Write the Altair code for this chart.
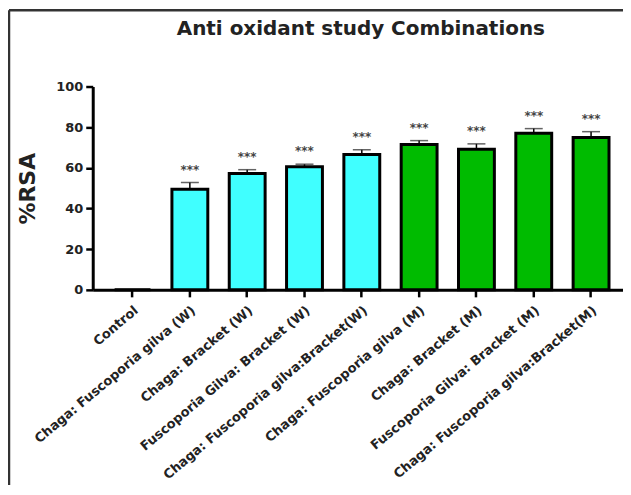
import altair as alt
import pandas as pd

categories = [
    "Control",
    "Chaga: Fuscoporia gilva (W)",
    "Chaga: Bracket (W)",
    "Fuscoporia Gilva: Bracket (W)",
    "Chaga: Fuscoporia gilva:Bracket(W)",
    "Chaga: Fuscoporia gilva (M)",
    "Chaga: Bracket (M)",
    "Fuscoporia Gilva: Bracket (M)",
    "Chaga: Fuscoporia gilva:Bracket(M)",
]
values = [0, 49.5, 57.2, 60.5, 66.6, 71.5, 69.2, 77.0, 74.9]
errors = [0, 3.3, 1.9, 1.3, 2.3, 1.9, 2.6, 2.3, 2.9]
groups = ["Control", "W", "W", "W", "W", "M", "M", "M", "M"]
stars = ["", "***", "***", "***", "***", "***", "***", "***", "***"]

df = pd.DataFrame({
    "cat": categories, "val": values, "err": errors, "grp": groups, "star": stars,
})
df["top"] = df["val"] + df["err"]

FONT = "DejaVu Sans"
W, H = 532, 204

xs = alt.X("cat:N", sort=categories,
           scale=alt.Scale(paddingInner=0.374, paddingOuter=0.313, align=0.61),
           axis=alt.Axis(title=None, labelAngle=320, labelFont=FONT, labelFontSize=13,
                         labelFontWeight="bold", labelColor="#222", labelPadding=7,
                         tickSize=7, tickWidth=2.5, tickColor="black",
                         domainWidth=3, domainColor="black", labelLimit=400))
ys = alt.Y("val:Q", scale=alt.Scale(domain=[0, 100], nice=False),
           axis=alt.Axis(title="%RSA", values=[0, 20, 40, 60, 80, 100],
                         titleFont=FONT, titleFontSize=22, titleFontWeight="bold",
                         titleColor="#222", titlePadding=16,
                         labelFont=FONT, labelFontSize=13, labelFontWeight="bold",
                         labelColor="#222", labelPadding=3,
                         tickSize=7, tickWidth=2.5, tickColor="black",
                         domainWidth=3, domainColor="black", grid=False))

base = alt.Chart(df)

bars = base.mark_bar(stroke="black", strokeWidth=3).encode(
    x=xs, y=ys,
    color=alt.Color("grp:N", scale=alt.Scale(domain=["Control", "W", "M"],
                                             range=["#ffffff", "#40FFFF", "#00BB00"]),
                    legend=None),
)

pos = base.transform_filter("datum.val > 0")
err_rule = pos.mark_rule(color="black", strokeWidth=1.5).encode(
    x=alt.X("cat:N", sort=categories), y="val:Q", y2="top:Q")
err_cap = pos.mark_tick(color="#222", orient="horizontal", size=18, thickness=1.5).encode(
    x=alt.X("cat:N", sort=categories), y="top:Q")
star_text = pos.mark_text(font=FONT, fontSize=12, fontWeight="bold", color="#444",
                          baseline="alphabetic", dy=-9).encode(
    x=alt.X("cat:N", sort=categories), y="top:Q", text="star:N")

title = alt.Chart(pd.DataFrame({"t": ["Anti oxidant study Combinations"]})).mark_text(
    font=FONT, fontSize=20, fontWeight="bold", color="#222", baseline="middle",
    align="center").encode(x=alt.value(W / 2 + 3), y=alt.value(-58), text="t:N")

frame_df = pd.DataFrame({"k": [1]})
frame_left = alt.Chart(frame_df).mark_rule(color="#333", strokeWidth=2.5).encode(
    x=alt.value(-84), y=alt.value(-76.5), y2=alt.value(400))
frame_top = alt.Chart(frame_df).mark_rule(color="#333", strokeWidth=2.5).encode(
    x=alt.value(-84), x2=alt.value(540), y=alt.value(-76.5))

chart = alt.layer(bars, err_rule, err_cap, star_text, title, frame_left, frame_top).properties(
    width=W, height=H,
    padding={"left": 85, "top": 78, "right": 0, "bottom": 195},
    autosize=alt.AutoSizeParams(type="none"),
    background="white",
).configure_view(stroke="transparent", strokeWidth=0)

chart.save("out.html", embed_options={"renderer": "svg", "actions": False})
